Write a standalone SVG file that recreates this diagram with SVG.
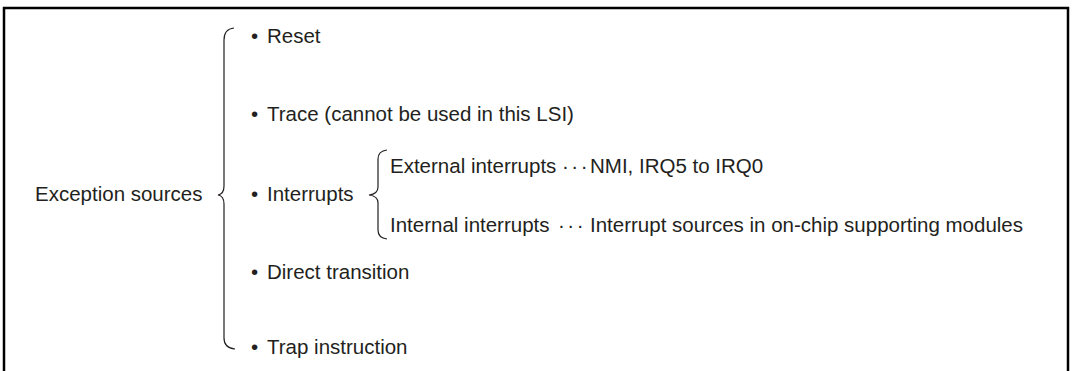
<svg xmlns="http://www.w3.org/2000/svg" width="1073" height="371" viewBox="0 0 1073 371">
<style>
text{font-family:"Liberation Sans",Arial,Helvetica,sans-serif;font-size:20.5px;fill:#231f20}
.brace{fill:none;stroke:#231f20;stroke-width:1.2}
.frame{fill:none;stroke:#000;stroke-width:2.5}
</style>
<rect width="1073" height="371" fill="#fff"/>
<path class="frame" d="M4,372 V8 H1068 V372"/>
<g id="connectors">
<path class="brace" d="M234,28 Q224,29 224,40 V186 Q224,194 218,195 Q224,196 224,204 V338 Q224,348 235,349"/>
<path class="brace" d="M387,150 Q378,151 378,159 V187 Q378,194 369,195 Q378,196 378,203 V230 Q378,238 387,239"/>
</g>
<g id="exception-sources"><text x="35" y="201">Exception sources</text></g>
<g id="reset"><text y="43"><tspan x="251">•</tspan><tspan x="267">Reset</tspan></text></g>
<g id="trace"><text y="121"><tspan x="251">•</tspan><tspan x="267">Trace (cannot be used in this LSI)</tspan></text></g>
<g id="interrupts"><text y="201"><tspan x="251">•</tspan><tspan x="267">Interrupts</tspan></text></g>
<g id="direct-transition"><text y="279"><tspan x="251">•</tspan><tspan x="267">Direct transition</tspan></text></g>
<g id="trap-instruction"><text y="354"><tspan x="251">•</tspan><tspan x="267">Trap instruction</tspan></text></g>
<g id="external-interrupts"><text y="173"><tspan x="390">External interrupts</tspan><tspan x="562" letter-spacing="2.5">···</tspan><tspan x="590">NMI, IRQ5 to IRQ0</tspan></text></g>
<g id="internal-interrupts"><text y="232"><tspan x="390">Internal interrupts</tspan><tspan x="558" letter-spacing="2.5">···</tspan><tspan x="590">Interrupt sources in on-chip supporting modules</tspan></text></g>
</svg>
